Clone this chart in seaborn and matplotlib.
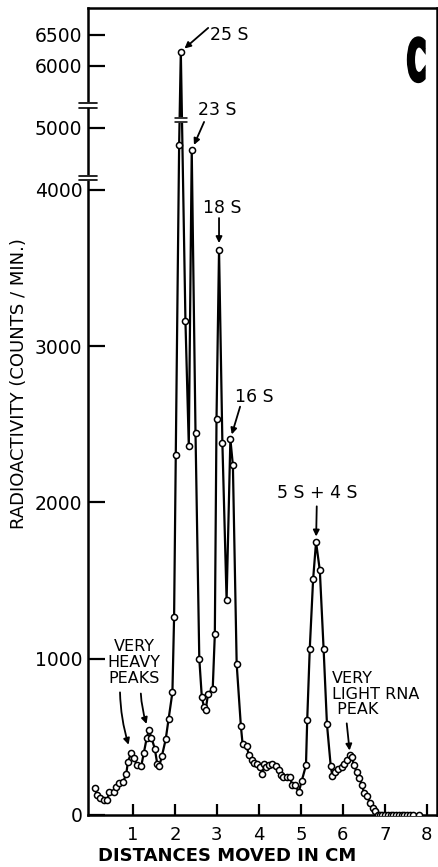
import numpy as np
import pandas as pd
import matplotlib
matplotlib.use("Agg")
import matplotlib.pyplot as plt
import matplotlib.transforms as mtransforms
from matplotlib.textpath import TextPath
from matplotlib.patches import PathPatch
from matplotlib.font_manager import FontProperties
import seaborn as sns

# ---------------- data ----------------
distance_cm = [
    0.09, 0.15, 0.22, 0.30, 0.38, 0.44, 0.56, 0.60, 0.68, 0.76, 0.84, 0.88,
    0.96, 1.02, 1.10, 1.20, 1.26, 1.33, 1.38, 1.44, 1.52, 1.58, 1.63, 1.69,
    1.78, 1.85, 1.94, 1.98, 2.02, 2.10, 2.14, 2.25, 2.33, 2.40, 2.49, 2.58,
    2.64, 2.69, 2.73, 2.79, 2.90, 2.95, 2.99, 3.05, 3.13, 3.23, 3.32, 3.38,
    3.47, 3.57, 3.61, 3.71, 3.76, 3.83, 3.88, 3.95, 4.02, 4.08, 4.12, 4.18,
    4.25, 4.32, 4.40, 4.48, 4.52, 4.58, 4.67, 4.75, 4.78, 4.86, 4.95, 5.02,
    5.12, 5.15, 5.21, 5.29, 5.36, 5.45, 5.54, 5.62, 5.71, 5.75, 5.81, 5.89,
    5.97, 6.03, 6.09, 6.17, 6.21, 6.26, 6.33, 6.38, 6.46, 6.50, 6.58, 6.64,
    6.71, 6.76, 6.84, 6.88, 6.94, 7.00, 7.08, 7.14, 7.20, 7.26, 7.33, 7.40,
    7.46, 7.52, 7.60, 7.67, 7.81,
]
radioactivity = [
    170, 127, 106, 96, 96, 145, 145, 180, 202, 208, 261, 340,
    399, 367, 318, 316, 399, 495, 541, 495, 425, 325, 314, 378,
    484, 616, 785, 1268, 2306, 4725, 6230, 3164, 2363, 4645, 2443, 1000,
    754, 694, 669, 777, 809, 1159, 2537, 3616, 2378, 1376, 2406, 2238,
    966, 569, 457, 441, 382, 355, 335, 325, 304, 265, 329, 304,
    318, 329, 314, 287, 255, 244, 244, 244, 195, 191, 148, 219,
    318, 611, 1062, 1508, 1747, 1565, 1062, 580, 312, 248, 276, 297,
    308, 325, 350, 382, 371, 318, 276, 238, 191, 138, 121, 78,
    43, 25, 0, 0, 0, 0, 0, 0, 0, 0, 0, 0,
    0, 0, 0, 0, 0,
]

y_ticks = [0, 1000, 2000, 3000, 4000, 5000, 6000, 6500]
y_tick_labels = ["0", "1000", "2000", "3000", "4000", "5000", "6000", "6500"]
x_ticks = [1, 2, 3, 4, 5, 6, 7, 8]
x_tick_labels = ["1", "2", "3", "4", "5", "6", "7", "8"]

peak_labels = ["25 S", "23 S", "18 S", "16 S", "5 S + 4 S"]
peak_index = [30, 33, 43, 46, 76]

df = pd.DataFrame({"distance": distance_cm, "counts": radioactivity})

# ---------------- broken (compressed) y scale above 4000 ----------------
BREAK = 4000.0
FACTOR = 0.397


def fwd(v):
    v = np.asarray(v, dtype=float)
    return np.where(v <= BREAK, v, BREAK + (v - BREAK) * FACTOR)


def inv(f):
    f = np.asarray(f, dtype=float)
    return np.where(f <= BREAK, f, BREAK + (f - BREAK) / FACTOR)


sns.set_theme(style="white")
plt.rcParams["font.family"] = ["DejaVu Sans"]

fig = plt.figure(figsize=(4.39, 8.67), dpi=100)
ax = fig.add_axes([88 / 439, 1 - 815 / 867, (437 - 88) / 439, (815 - 8) / 867])
ax.set_yscale("function", functions=(fwd, inv))

sns.lineplot(
    data=df, x="distance", y="counts", ax=ax, sort=False, estimator=None,
    color="black", linewidth=1.6, marker="o", markersize=4.4,
    markerfacecolor="white", markeredgecolor="black", markeredgewidth=1.1,
    zorder=3,
)

ax.set_xlim(-0.07, 8.24)
ax.set_ylim(0, 6934)

ax.set_yticks(y_ticks)
ax.set_yticklabels(y_tick_labels)
ax.set_xticks(x_ticks)
ax.set_xticklabels(x_tick_labels)
ax.yaxis.set_minor_locator(matplotlib.ticker.NullLocator())
ax.tick_params(axis="y", direction="in", length=12, width=1.6, pad=4,
               labelsize=13.5, colors="black", left=True)
ax.tick_params(axis="x", direction="in", length=8, width=1.6, pad=8,
               labelsize=13, colors="black", bottom=True)

for sp in ax.spines.values():
    sp.set_color("black")
    sp.set_linewidth(1.8)

ax.set_xlabel("DISTANCES MOVED IN CM", fontsize=13, color="black",
              fontweight="semibold")
ax.set_ylabel("RADIOACTIVITY (COUNTS / MIN.)", fontsize=13, color="black")
ax.xaxis.set_label_coords(0.40, -0.040)
ax.yaxis.set_label_coords(-0.172, 0.535)

# ---------------- break marks ----------------
btrans = mtransforms.blended_transform_factory(ax.transAxes, ax.transData)
for yb in (4193, 5363):
    ax.plot([-0.022, 0.022], [yb, yb], transform=btrans, color="white", lw=4,
            clip_on=False, zorder=5, solid_capstyle="butt")
    for d in (-38, 38):
        ax.plot([-0.025, 0.025], [yb + d, yb + d], transform=btrans,
                color="black", lw=1.2, clip_on=False, zorder=6)
# break on the 25 S peak lines
ax.plot([2.02, 2.26], [5128, 5128], color="white", lw=4, zorder=4,
        solid_capstyle="butt")
for yv in (5096, 5161):
    ax.plot([2.0, 2.28], [yv, yv], color="black", lw=1.1, zorder=4)

# ---------------- annotations ----------------
arrow_kw = dict(arrowstyle="-|>", color="black", lw=1.3, mutation_scale=9,
                shrinkA=0)
txt_kw = dict(fontsize=12.5, color="black", textcoords="offset points")

# (tail offset pt, text offset pt, ha, shrinkB)
ann_geom = [
    ((19.7, 17.1), (21.0, 12.0), "left", 3.5),
    ((8.9, 20.2), (18.6, 28.8), "center", 4.0),
    ((0.0, 23.0), (2.5, 30.5), "center", 5.0),
    ((7.0, 23.3), (17.0, 30.5), "center", 3.5),
    ((0.5, 25.7), (0.7, 35.0), "center", 4.0),
]
for lab, idx, (tail, toff, ha, shr) in zip(peak_labels, peak_index, ann_geom):
    xy = (distance_cm[idx], radioactivity[idx])
    ax.annotate("", xy=xy, xytext=tail, textcoords="offset points",
                arrowprops=dict(shrinkB=shr, **arrow_kw))
    ax.annotate(lab, xy=xy, xytext=toff, ha=ha, va="center", **txt_kw)

# very heavy peaks
hp1 = (distance_cm[12], radioactivity[12])
hp2 = (distance_cm[18], radioactivity[18])
ax.annotate("", xy=hp1, xytext=(-8.1, 43.4), textcoords="offset points",
            arrowprops=dict(shrinkB=6, connectionstyle="arc3,rad=0.08", **arrow_kw))
ax.annotate("", xy=hp2, xytext=(-5.8, 26.6), textcoords="offset points",
            arrowprops=dict(shrinkB=5, connectionstyle="arc3,rad=0.08", **arrow_kw))
ax.annotate("VERY\nHEAVY\nPEAKS", xy=hp2, xytext=(-10.8, 49.0), ha="center",
            va="center", linespacing=1.05, fontsize=11.5, color="black",
            textcoords="offset points")

# very light RNA peak
lp = (distance_cm[87], radioactivity[87])
ax.annotate("", xy=lp, xytext=(-2.4, 23.0), textcoords="offset points",
            arrowprops=dict(shrinkB=3.5, **arrow_kw))
ax.annotate("VERY\nLIGHT RNA\n PEAK", xy=lp, xytext=(-13.0, 44.0), ha="left",
            va="center", linespacing=1.05, fontsize=11.5, color="black",
            textcoords="offset points")

# panel letter "C" (condensed, heavy) drawn as a scaled text path
tp = TextPath((0, 0), "C", size=1, prop=FontProperties(family="DejaVu Sans",
                                                        weight="bold"))
ext = tp.get_extents()
box_w, box_h = 15.5, 43.5           # pixels (stroke adds ~2.5 px around)
x0_px, y0_px = 408.5, 867.0 - 81.5  # bottom-left in display pixels
tr = (mtransforms.Affine2D()
      .translate(-ext.x0, -ext.y0)
      .scale(box_w / ext.width, box_h / ext.height)
      .translate(x0_px, y0_px))
patch = PathPatch(tr.transform_path(tp), facecolor="black", edgecolor="black",
                  lw=2.4, joinstyle="miter",
                  transform=mtransforms.IdentityTransform())
fig.patches.append(patch)
patch.set_figure(fig)

fig.savefig("out.png", dpi=100, facecolor="white")
